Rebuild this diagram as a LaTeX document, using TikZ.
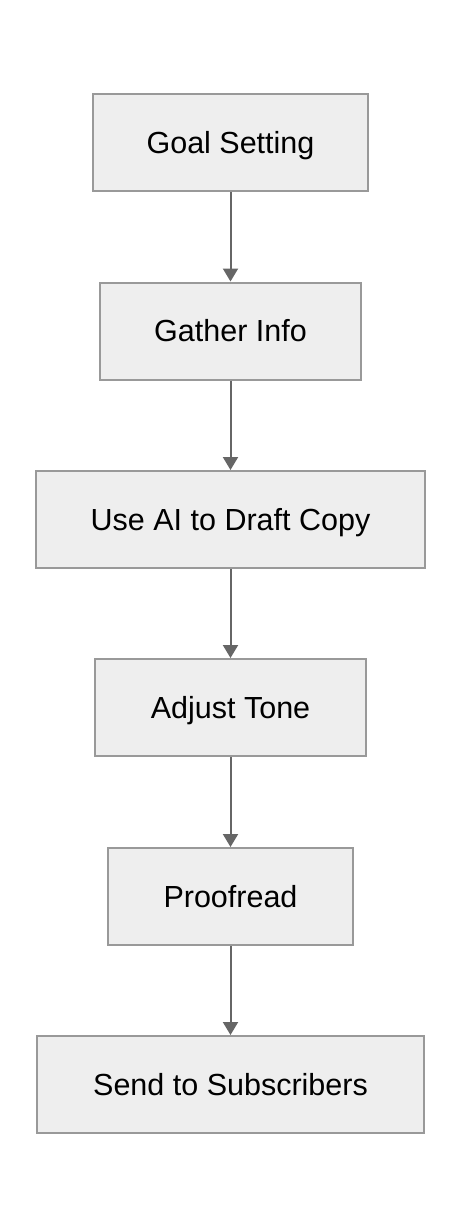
\documentclass[tikz,border=0pt]{standalone}
\usepackage{fontspec}
\setmainfont{Liberation Sans}
\usetikzlibrary{arrows.meta}
\definecolor{boxfill}{HTML}{EEEEEE}
\definecolor{boxline}{HTML}{999999}
\definecolor{arrowcol}{HTML}{666666}
\tikzset{
  stepbox/.style={draw=boxline, fill=boxfill, line width=2pt, minimum height=97pt, inner sep=0pt,
    font=\fontsize{30.5}{36}\selectfont, text=black, text height=21.8pt, text depth=0pt},
  flow/.style={draw=arrowcol, line width=2pt, -{Triangle[length=13pt,width=15pt]}}
}
\begin{document}
\begin{tikzpicture}[x=1pt,y=-1pt]
\useasboundingbox (0,0) rectangle (462,1228);
\node[stepbox, minimum width=275pt] (a) at (230.5,142.5) {Goal Setting};
\node[stepbox, minimum width=261pt] (b) at (230.5,331) {Gather Info};
\node[stepbox, minimum width=389pt] (c) at (230.5,519.5) {Use AI to Draft Copy};
\node[stepbox, minimum width=271pt] (d) at (230.5,707.5) {Adjust Tone};
\node[stepbox, minimum width=245pt] (e) at (230.5,896.5) {Proofread};
\node[stepbox, minimum width=387pt] (f) at (230.5,1084.5) {Send to Subscribers};
\draw[flow] (a) -- (b);
\draw[flow] (b) -- (c);
\draw[flow] (c) -- (d);
\draw[flow] (d) -- (e);
\draw[flow] (e) -- (f);
\end{tikzpicture}
\end{document}
